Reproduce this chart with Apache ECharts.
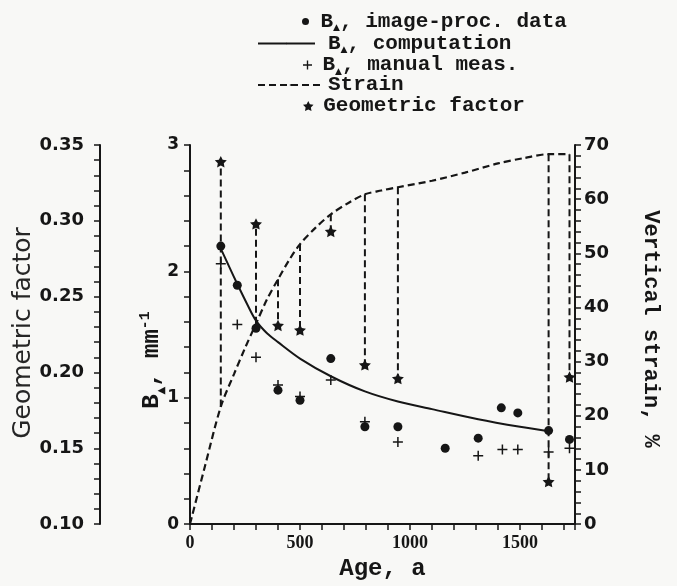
<!DOCTYPE html>
<html>
<head>
<meta charset="utf-8">
<script src="https://cdn.jsdelivr.net/npm/echarts@6/dist/echarts.min.js"></script>
<style>
html,body{margin:0;padding:0;background:#f8f8f6;}
#c{width:677px;height:586px;}
</style>
</head>
<body>
<div id="c"></div>
<script>
// ---- data ----
const ageMin = 0, ageMax = 1750;
const xLabelValues = [0, 500, 1000, 1500];

// B_delta, image-processing data (dots)
const dotAges = [140, 215, 300, 400, 500, 640, 795, 945, 1160, 1310, 1415, 1490, 1630, 1725];
const dotB    = [2.20, 1.89, 1.55, 1.06, 0.98, 1.31, 0.77, 0.77, 0.60, 0.68, 0.92, 0.88, 0.74, 0.67];

// B_delta, manual measurements (plus)
const plusAges = [140, 215, 300, 400, 500, 640, 795, 945, 1310, 1420, 1490, 1630, 1725];
const plusB    = [2.06, 1.58, 1.32, 1.10, 1.01, 1.14, 0.81, 0.65, 0.54, 0.59, 0.59, 0.57, 0.60];

// B_delta, computation (solid curve)
const compAges = [140, 180, 215, 260, 300, 350, 400, 500, 640, 795, 945, 1100, 1310, 1500, 1630];
const compB    = [2.18, 2.03, 1.90, 1.74, 1.61, 1.51, 1.44, 1.31, 1.17, 1.05, 0.97, 0.91, 0.83, 0.77, 0.735];

// Vertical strain, % (dashed curve)
const strainAges = [0, 70, 140, 200, 250, 300, 350, 400, 450, 500, 570, 640, 720, 795, 870, 945, 1100, 1250, 1400, 1520, 1630, 1725];
const strainVal  = [0, 11, 21.7, 27.7, 32.5, 37, 41.5, 45.2, 48.7, 51.7, 54.7, 57.2, 59.3, 60.9, 61.6, 62.2, 63.4, 64.9, 66.6, 67.6, 68.3, 68.3];

// Geometric factor (stars) and the strain value where each drop line starts
const starAges   = [140, 300, 400, 500, 640, 795, 945, 1630, 1725];
const starG      = [0.339, 0.298, 0.231, 0.228, 0.293, 0.205, 0.196, 0.128, 0.197];
const dropStrain = [21.7, 37, 45.2, 51.7, 57.2, 60.9, 62.2, 68.3, 68.3];

// axis ranges
const bMin = 0, bMax = 3, bStep = 1;
const gMin = 0.10, gMax = 0.35, gStep = 0.05;
const sMin = 0, sMax = 70, sStep = 10;

// ---- styling ----
const ink = '#161616';
const MONO = '"Liberation Mono", "DejaVu Sans Mono", monospace';
const SANS = '"DejaVu Sans", sans-serif';
const SERIF = '"Liberation Serif", serif';
const STAR = 'path://M0,-10L2.94,-4.05L9.51,-3.09L4.76,1.55L5.88,8.09L0,5.2L-5.88,8.09L-4.76,1.55L-9.51,-3.09L-2.94,-4.05Z';
const PLUS = 'path://M-0.9,-6H0.9V-0.9H6V0.9H0.9V6H-0.9V0.9H-6V-0.9H-0.9Z';

const N_DOT = 'B▲, image-proc. data';
const N_COMP = 'B▲, computation';
const N_PLUS = 'B▲, manual meas.';
const N_STRAIN = 'Strain';
const N_GEO = 'Geometric factor';

const zip = (a, b) => a.map((v, i) => [v, b[i]]);

const chart = echarts.init(document.getElementById('c'));

const legendRich = {
  t: { fontFamily: MONO, fontWeight: 'bold', fontSize: 21, color: ink, lineHeight: 22 },
  s: { fontFamily: SANS, fontSize: 9, color: ink, lineHeight: 12, verticalAlign: 'bottom' }
};
const legendFmt = name => name.indexOf('B▲') === 0
  ? '{t|B}{s|▲}{t|' + name.slice(2) + '}'
  : '{t|' + name + '}';
function mkLegend(name, left, top, w, h, pad) {
  return {
    data: [name], left: left, top: top, itemWidth: w, itemHeight: h,
    padding: 0, itemGap: 0, selectedMode: false, formatter: legendFmt,
    textStyle: { rich: legendRich, lineHeight: 22, padding: pad || 0 }
  };
}

const axisLineStyle = { color: ink, width: 2 };
const tickStyle = { color: ink, width: 1.5 };

const option = {
  backgroundColor: '#f8f8f6',
  animation: false,
  grid: { left: 190, right: 102, top: 145, bottom: 53, containLabel: false },
  legend: [
    mkLegend(N_DOT, 302, 10.5, 20, 7),
    mkLegend(N_COMP, 257, 32.5, 57, 2, [0, 0, 0, 8]),
    mkLegend(N_PLUS, 303, 54, 20, 9),
    mkLegend(N_STRAIN, 257, 74, 65, 2),
    mkLegend(N_GEO, 303, 95, 20, 10)
  ],
  xAxis: {
    type: 'value', min: ageMin, max: ageMax, interval: 100,
    axisLine: { show: true, onZero: false, lineStyle: axisLineStyle },
    axisTick: { show: true, inside: false, length: 6, lineStyle: tickStyle },
    splitLine: { show: false },
    axisLabel: {
      margin: 10, color: ink, fontFamily: SERIF, fontWeight: 'bold', fontSize: 18,
      formatter: v => xLabelValues.indexOf(v) >= 0 ? String(v) : ''
    },
    name: 'Age, a', nameLocation: 'middle', nameGap: 30,
    nameTextStyle: { fontFamily: MONO, fontWeight: 'bold', fontSize: 24, color: ink }
  },
  yAxis: [
    {
      type: 'value', position: 'left', offset: 0, min: bMin, max: bMax, interval: bStep,
      axisLine: { show: true, onZero: false, lineStyle: axisLineStyle },
      axisTick: { show: true, inside: false, length: 6, lineStyle: tickStyle },
      minorTick: { show: true, splitNumber: 5, length: 6, lineStyle: tickStyle },
      splitLine: { show: false },
      axisLabel: { margin: 11, color: ink, fontFamily: SANS, fontWeight: 'bold', fontSize: 17 }
    },
    {
      type: 'value', position: 'left', offset: 90, min: gMin, max: gMax, interval: gStep,
      axisLine: { show: true, onZero: false, lineStyle: axisLineStyle },
      axisTick: { show: true, inside: false, length: 6, lineStyle: tickStyle },
      minorTick: { show: true, splitNumber: 5, length: 6, lineStyle: tickStyle },
      splitLine: { show: false },
      axisLabel: { margin: 16, color: ink, fontFamily: SANS, fontWeight: 'bold', fontSize: 18,
        formatter: v => v.toFixed(2) }
    },
    {
      type: 'value', position: 'right', offset: 0, min: sMin, max: sMax, interval: sStep,
      axisLine: { show: true, onZero: false, lineStyle: axisLineStyle },
      axisTick: { show: true, inside: false, length: 6, lineStyle: tickStyle },
      minorTick: { show: true, splitNumber: 5, length: 6, lineStyle: tickStyle },
      splitLine: { show: false },
      axisLabel: { margin: 9, color: ink, fontFamily: SANS, fontWeight: 'bold', fontSize: 18 }
    }
  ],
  graphic: [
    { type: 'text', x: 23, y: 333, rotation: Math.PI / 2,
      style: { text: 'Geometric factor', fontFamily: SANS, fontSize: 25, fill: '#262626',
        align: 'center', verticalAlign: 'middle' } },
    { type: 'text', x: 152, y: 360, rotation: Math.PI / 2,
      style: { text: '{t|B}{s|▲}{t|, mm}{p|-1}', align: 'center', verticalAlign: 'middle',
        rich: {
          t: { fontFamily: MONO, fontWeight: 'bold', fontSize: 24, fill: ink, lineHeight: 28 },
          s: { fontFamily: SANS, fontSize: 10, fill: ink, lineHeight: 14, verticalAlign: 'bottom' },
          p: { fontFamily: MONO, fontWeight: 'bold', fontSize: 15, fill: ink, lineHeight: 14, verticalAlign: 'top' }
        } } },
    { type: 'text', x: 651, y: 329, rotation: -Math.PI / 2,
      style: { text: 'Vertical strain, %', fontFamily: MONO, fontWeight: 'bold', fontSize: 22, fill: ink,
        align: 'center', verticalAlign: 'middle' } }
  ],
  series: [
    {
      name: 'drops', type: 'custom', xAxisIndex: 0, yAxisIndex: 2, silent: true, z: 1,
      data: starAges.map((a, i) => [a, dropStrain[i], starG[i]]),
      encode: { x: 0, y: 1 },
      renderItem: (params, api) => {
        const p = api.coord([api.value(0), api.value(1)]);
        const yG = chart.convertToPixel({ yAxisIndex: 1 }, api.value(2));
        return { type: 'line', shape: { x1: p[0], y1: p[1], x2: p[0], y2: yG },
          style: { stroke: ink, lineWidth: 2, lineDash: [7, 4], fill: null } };
      }
    },
    {
      name: N_STRAIN, type: 'line', xAxisIndex: 0, yAxisIndex: 2, z: 2,
      data: zip(strainAges, strainVal), smooth: 0.3, symbol: 'none', showSymbol: false,
      lineStyle: { color: ink, width: 2.2, type: [7, 4] }, itemStyle: { color: ink }
    },
    {
      name: N_COMP, type: 'line', xAxisIndex: 0, yAxisIndex: 0, z: 2,
      data: zip(compAges, compB), smooth: 0.3, symbol: 'none', showSymbol: false,
      lineStyle: { color: ink, width: 2, type: 'solid' }, itemStyle: { color: ink }
    },
    {
      name: N_DOT, type: 'scatter', xAxisIndex: 0, yAxisIndex: 0, z: 3,
      data: zip(dotAges, dotB), symbol: 'circle', symbolSize: 9,
      itemStyle: { color: ink, opacity: 1 }
    },
    {
      name: N_PLUS, type: 'scatter', xAxisIndex: 0, yAxisIndex: 0, z: 3,
      data: zip(plusAges, plusB), symbol: PLUS, symbolSize: 10, symbolKeepAspect: true,
      itemStyle: { color: ink, opacity: 1 }
    },
    {
      name: N_GEO, type: 'scatter', xAxisIndex: 0, yAxisIndex: 1, z: 3,
      data: zip(starAges, starG), symbol: STAR, symbolSize: 12, symbolKeepAspect: true,
      itemStyle: { color: ink, opacity: 1 }
    }
  ]
};
chart.setOption(option);
</script>
</body>
</html>
